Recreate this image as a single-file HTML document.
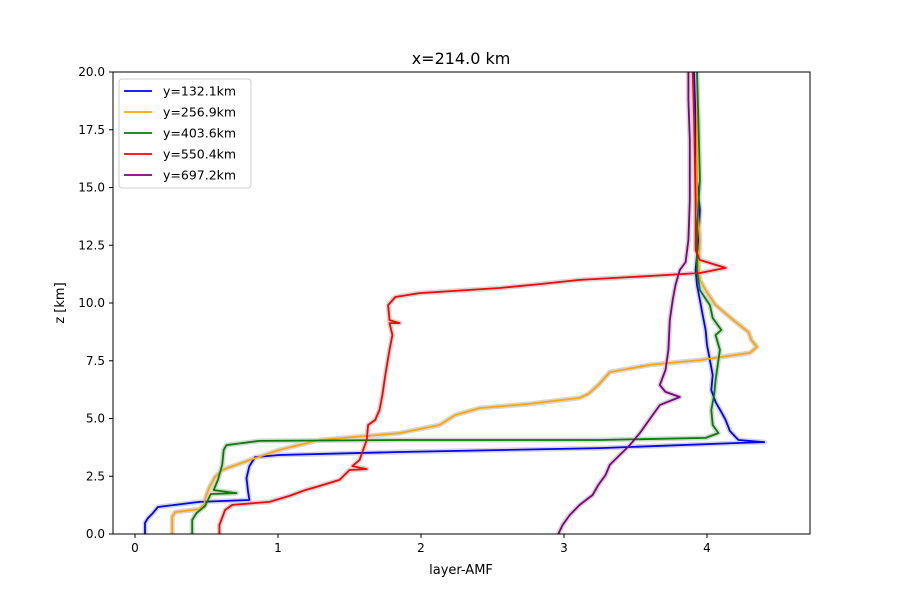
<!DOCTYPE html>
<html><head><meta charset="utf-8"><style>
body{margin:0;background:#fff;font-family:"Liberation Sans","DejaVu Sans",sans-serif}
svg text{font-family:"DejaVu Sans","Liberation Sans",sans-serif;fill:#000}
</style></head><body>
<svg id="chart" width="900" height="600" xmlns="http://www.w3.org/2000/svg">
<rect width="900" height="600" fill="#fff"/>
<g id="shade"></g><g id="lines"></g>
<rect x="113" y="72" width="697" height="462" fill="none" stroke="#000" stroke-width="1"/>
<g id="axes"></g>
<text x="461" y="64" font-size="16" text-anchor="middle">x=214.0 km</text>
<text x="461" y="574" font-size="13" text-anchor="middle">layer-AMF</text>
<text x="64" y="303" font-size="13" text-anchor="middle" transform="rotate(-90 64 303)">z [km]</text>
<g id="legend"></g>
</svg>
<script>
const xTicks=[0,1,2,3,4];
const yTicks=[0,2.5,5,7.5,10,12.5,15,17.5,20];
const seriesNames=["y=132.1km","y=256.9km","y=403.6km","y=550.4km","y=697.2km"];
const seriesColors=["blue","orange","green","red","purple"];
const blueAMF=[0.07,0.07,0.09,0.12,0.16,0.45,0.80,0.79,0.78,0.80,0.84,1.01,1.85,3.25,4.21,4.40,4.22,4.16,4.13,4.10,4.06,4.03,4.04,4.02,4.00,3.99,3.97,3.95,3.93,3.92,3.94,3.95,3.93,3.92,3.91];
const blueZ=[0,0.48,0.69,0.87,1.17,1.39,1.47,1.86,2.42,2.94,3.33,3.42,3.55,3.72,3.94,3.98,4.07,4.46,4.94,5.28,5.71,6.23,6.88,7.53,8.18,8.83,9.48,10.13,10.78,11.43,12.73,14.03,15.3,17.9,20];
const orangeAMF=[0.26,0.26,0.28,0.45,0.48,0.50,0.52,0.56,0.61,0.80,1.01,1.29,1.85,2.13,2.24,2.41,2.76,3.11,3.17,3.24,3.32,3.60,3.95,4.30,4.35,4.31,4.29,4.20,4.06,3.99,3.95,3.94,3.95,3.93,3.93,3.93];
const orangeZ=[0,0.74,0.95,1.08,1.26,1.69,2.03,2.47,2.77,3.2,3.64,4.07,4.37,4.72,5.15,5.45,5.63,5.89,6.06,6.45,7.01,7.32,7.53,7.84,8.1,8.4,8.74,9.18,9.91,10.56,11.0,11.64,12.73,14.46,17.06,20];
const greenAMF=[0.40,0.40,0.43,0.49,0.51,0.53,0.71,0.55,0.58,0.61,0.62,0.64,0.87,1.85,3.25,3.99,4.08,4.04,4.03,4.05,4.06,4.09,4.06,4.10,4.04,4.02,3.95,3.93,3.93,3.95,3.94,3.93];
const greenZ=[0,0.61,0.91,1.21,1.47,1.73,1.77,1.9,2.34,2.99,3.64,3.85,4.03,4.07,4.07,4.16,4.37,4.72,5.37,6.02,6.67,7.97,8.61,8.83,9.35,9.91,10.56,11.43,13.16,15.32,17.92,20];
const redAMF=[0.59,0.59,0.63,0.68,0.94,1.08,1.19,1.29,1.43,1.50,1.62,1.52,1.57,1.59,1.62,1.63,1.68,1.71,1.73,1.75,1.78,1.80,1.78,1.85,1.78,1.77,1.82,1.99,2.55,2.83,3.11,3.60,3.95,4.13,3.95,3.92,3.92,3.91,3.90];
const redZ=[0,0.39,1.04,1.26,1.39,1.65,1.9,2.08,2.34,2.77,2.81,2.94,3.2,3.55,4.07,4.72,4.94,5.37,6.02,6.88,7.97,8.61,9.13,9.13,9.26,9.91,10.26,10.43,10.65,10.82,11.0,11.17,11.3,11.52,11.86,12.29,14.46,17.92,20];
const purpleAMF=[2.96,2.99,3.04,3.11,3.20,3.24,3.29,3.32,3.39,3.46,3.53,3.62,3.67,3.81,3.71,3.67,3.71,3.73,3.74,3.76,3.78,3.81,3.85,3.87,3.88,3.88,3.87,3.87];
const purpleZ=[0,0.39,0.82,1.26,1.69,2.12,2.55,2.99,3.42,3.85,4.37,5.15,5.58,5.93,6.15,6.45,7.1,7.97,9.26,10.13,10.78,11.43,11.77,12.73,14.46,17.06,18.79,20];

const X=v=>135+v*143, Y=v=>534-v*23.1;
const NS="http://www.w3.org/2000/svg";
const mk=(t,a,p)=>{const e=document.createElementNS(NS,t);for(const k in a)e.setAttribute(k,a[k]);p.appendChild(e);return e;};
const axes=document.getElementById('axes');
xTicks.forEach(t=>{
  const l=mk('line',{x1:X(t),x2:X(t),y1:534,y2:538,stroke:'#000'},axes);
  
  
  const s=mk('text',{x:X(t),y:552,'font-size':12,'text-anchor':'middle'},axes);s.textContent=t;
  
  
});
yTicks.forEach(t=>{
  const l=mk('line',{x1:109,x2:113,y1:Y(t),y2:Y(t),stroke:'#000'},axes);
  
  
  const s=mk('text',{x:105,y:Y(t)+4,'font-size':12,'text-anchor':'end'},axes);s.textContent=t.toFixed(1);
  
  
});
const series=[[blueAMF,blueZ],[orangeAMF,orangeZ],[greenAMF,greenZ],[redAMF,redZ],[purpleAMF,purpleZ]];
const shade=document.getElementById('shade'),lines=document.getElementById('lines');
series.forEach((s,i)=>{
  const pts=s[0].map((v,j)=>X(v).toFixed(1)+','+Y(s[1][j]).toFixed(1)).join(' ');
  const g=mk('polyline',{points:pts,fill:'none',stroke:'#d6d6d6','stroke-width':5,'stroke-linejoin':'round'},shade);
  
  
  const p=mk('polyline',{points:pts,fill:'none',stroke:seriesColors[i],'stroke-width':1.8,'stroke-linejoin':'round'},lines);
  
  
});
const lg=document.getElementById('legend');
const box=mk('rect',{x:119,y:79,width:132,height:109,rx:3,fill:'#fff','fill-opacity':0.8,stroke:'#ccc'},lg);


seriesNames.forEach((n,i)=>{
  const y=91+i*21;
  const l=mk('line',{x1:124,x2:152,y1:y,y2:y,stroke:seriesColors[i],'stroke-width':1.8},lg);
  
  
  const t=mk('text',{x:163,y:y+4.5,'font-size':12.5},lg);t.textContent=n;
  
  
});
</script>
</body></html>
